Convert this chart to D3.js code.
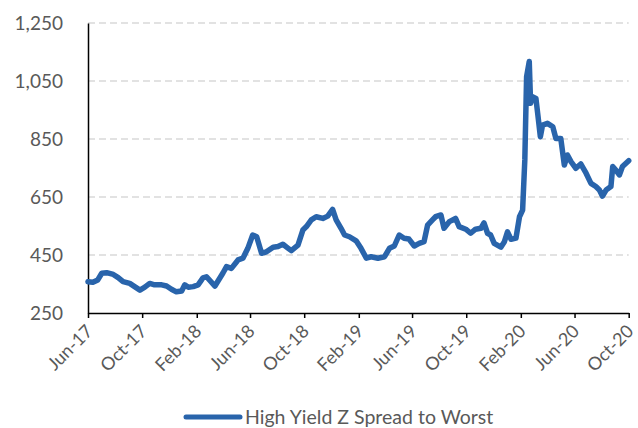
<!DOCTYPE html>
<html>
<head>
<meta charset="utf-8">
<script src="https://cdn.jsdelivr.net/npm/d3@7"></script>
<style>
  body { margin: 0; background: #fff; }
  text { font-family: Lato, "Open Sans", sans-serif; fill: #595959; }
</style>
</head>
<body>
<script>
// values
const dates = [
  "2017-06-01","2017-06-12","2017-06-23","2017-07-02","2017-07-13","2017-07-28","2017-08-08","2017-08-19",
  "2017-09-03","2017-09-14","2017-09-26","2017-10-07","2017-10-18","2017-10-29","2017-11-14","2017-11-25",
  "2017-12-06","2017-12-17","2017-12-29","2018-01-05","2018-01-13","2018-01-24","2018-02-04","2018-02-15",
  "2018-02-23","2018-03-14","2018-04-01","2018-04-09","2018-04-20","2018-05-05","2018-05-16","2018-05-27",
  "2018-06-07","2018-06-16","2018-06-27","2018-07-08","2018-07-23","2018-08-03","2018-08-14","2018-08-26",
  "2018-09-02","2018-09-17","2018-09-28","2018-10-06","2018-10-17","2018-10-28","2018-11-12","2018-11-23",
  "2018-12-04","2018-12-12","2018-12-23","2018-12-31","2019-01-11","2019-01-26","2019-02-06","2019-02-18",
  "2019-03-01","2019-03-16","2019-03-31","2019-04-11","2019-04-22","2019-05-03","2019-05-14","2019-05-25",
  "2019-06-06","2019-06-17","2019-06-28","2019-07-06","2019-07-17","2019-07-24","2019-08-05","2019-08-12",
  "2019-08-24","2019-09-07","2019-09-15","2019-09-30","2019-10-11","2019-10-22","2019-11-03","2019-11-10",
  "2019-11-18","2019-11-25","2019-12-03","2019-12-18","2019-12-26","2020-01-02","2020-01-10","2020-01-21",
  "2020-01-29","2020-02-05","2020-02-10","2020-02-14","2020-02-20","2020-02-23","2020-02-27","2020-03-06",
  "2020-03-10","2020-03-16","2020-03-21","2020-04-01","2020-04-13","2020-04-20","2020-05-01","2020-05-09",
  "2020-05-16","2020-05-24","2020-06-04","2020-06-15","2020-06-27","2020-07-08","2020-07-19","2020-07-27",
  "2020-08-03","2020-08-11","2020-08-22","2020-08-26","2020-09-02","2020-09-10","2020-09-17","2020-10-01"
];
const spreads = [
  358,356,364,387,389,383,372,358,
  352,341,329,339,352,347,347,343,
  332,323,326,347,339,341,347,371,
  375,343,388,410,404,433,439,473,
  519,513,456,461,477,479,487,473,
  465,484,536,548,571,582,576,584,
  607,571,542,519,513,499,473,439,
  444,439,444,473,481,519,508,505,
  481,490,496,553,571,582,588,542,
  565,576,548,539,525,539,542,561,
  525,519,490,477,496,530,504,508,
  582,605,778,1065,1117,973,996,990,
  938,858,898,904,892,852,852,760,
  795,772,749,764,732,697,686,674,
  653,674,686,755,743,726,755,775
];
const tickDates = ["2017-06-01","2017-10-01","2018-02-01","2018-06-01","2018-10-01","2019-02-01",
                   "2019-06-01","2019-10-01","2020-02-01","2020-06-01","2020-10-01"];
const yTicks = [250, 450, 650, 850, 1050, 1250];
const seriesName = "High Yield Z Spread to Worst";

const parse = d3.timeParse("%Y-%m-%d");
const fmt = d3.timeFormat("%b-%y");
const data = dates.map((d, i) => ({ date: parse(d), value: spreads[i] }));

const W = 638, H = 428;
const plotLeft = 88, plotRight = 628.7, plotTop = 23, plotBottom = 313;
const lineColor = "#2964ab";

const svg = d3.select("body").append("svg")
  .attr("width", W)
  .attr("height", H);

const x = d3.scaleTime()
  .domain([parse(tickDates[0]), parse(tickDates[tickDates.length - 1])])
  .range([plotLeft, plotRight]);

const y = d3.scaleLinear()
  .domain([250, 1250])
  .range([plotBottom, plotTop]);

// dashed gridlines
svg.append("g")
  .selectAll("line")
  .data(yTicks.slice(1))
  .enter().append("line")
    .attr("x1", plotLeft)
    .attr("x2", plotRight)
    .attr("y1", d => y(d))
    .attr("y2", d => y(d))
    .attr("stroke", "#d9d9d9")
    .attr("stroke-width", 1.5)
    .attr("stroke-dasharray", "7,4");

// y axis
const yAxis = svg.append("g")
  .attr("transform", `translate(${plotLeft},0)`)
  .call(d3.axisLeft(y).tickValues(yTicks).tickSize(0).tickPadding(25).tickFormat(d3.format(",")));
yAxis.select(".domain").attr("stroke", "#000").attr("stroke-width", 1.5);
yAxis.selectAll("text")
  .style("font-size", "19px")
  .attr("fill", "#595959");

// x axis
const xAxis = svg.append("g")
  .attr("transform", `translate(0,${plotBottom})`)
  .call(d3.axisBottom(x).tickValues(tickDates.map(parse)).tickSize(5).tickSizeOuter(0).tickFormat(fmt));
xAxis.select(".domain").attr("stroke", "#000").attr("stroke-width", 1.5);
xAxis.selectAll(".tick line").attr("stroke", "#000").attr("stroke-width", 1.5);
xAxis.selectAll("text")
  .style("font-size", "18px")
  .attr("fill", "#595959")
  .style("text-anchor", "end")
  .attr("x", 0)
  .attr("y", 0)
  .attr("dy", "0.35em")
  .attr("transform", "translate(1,15) rotate(-45)");

// the series
const line = d3.line()
  .x(d => x(d.date))
  .y(d => y(d.value));

svg.append("path")
  .datum(data)
  .attr("fill", "none")
  .attr("stroke", lineColor)
  .attr("stroke-width", 5.5)
  .attr("stroke-linejoin", "round")
  .attr("stroke-linecap", "round")
  .attr("d", line);

// legend
const legend = svg.append("g").attr("transform", "translate(186,417)");
legend.append("line")
  .attr("x1", 0).attr("x2", 54)
  .attr("stroke", lineColor)
  .attr("stroke-width", 5)
  .attr("stroke-linecap", "round");
legend.append("text")
  .attr("x", 59)
  .attr("dy", "0.35em")
  .style("font-size", "19.5px")
  .text(seriesName);
</script>
</body>
</html>
